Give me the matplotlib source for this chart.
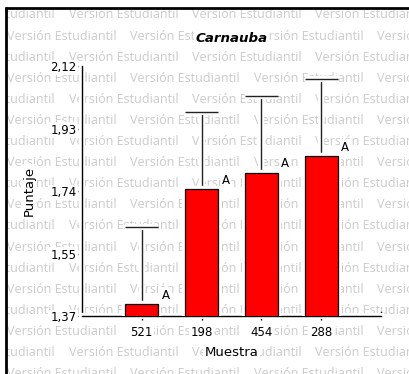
import matplotlib
matplotlib.use("Agg")
import matplotlib.pyplot as plt
import matplotlib.patheffects as pe
from matplotlib.lines import Line2D

# ---- data ----
samples = ['521', '198', '454', '288']
means = [1.405, 1.751, 1.800, 1.850]
err_up = [0.232, 0.232, 0.230, 0.232]
groups = ['A', 'A', 'A', 'A']
ytick_values = [1.37, 1.5575, 1.745, 1.9325, 2.12]
ytick_labels = ['1,37', '1,55', '1,74', '1,93', '2,12']
title = 'Carnauba'
xlabel = 'Muestra'
ylabel = 'Puntaje'
watermark = 'Versión Estudiantil'

W, H = 409, 374
fig = plt.figure(figsize=(W / 100, H / 100), dpi=100)
fig.patch.set_facecolor('white')

# ---- background watermark layer (pixel coordinates, clipped to inner frame) ----
x0, y0 = 6.5, 8.5
bg = fig.add_axes([x0 / W, 0, 1 - x0 / W, 1 - y0 / H], zorder=0)
bg.set_xlim(x0, W)
bg.set_ylim(H, y0)
bg.set_axis_off()
period = 123.3
row_h = 21.1
r = 0
y = 15.0
while y < H + 12:
    start = 7.0 if r % 2 == 1 else 7.0 + period / 2 - period
    x = start
    while x < W + 5:
        bg.text(x, y, watermark, fontsize=9, family='Open Sans', color='#cbcbcb',
                ha='left', va='center', clip_on=True)
        x += period
    y += row_h
    r += 1
fig.add_artist(Line2D([5 / W, 1.0], [1 - 7.5 / H, 1 - 7.5 / H], transform=fig.transFigure,
                      color='black', lw=2, solid_capstyle='butt'))
fig.add_artist(Line2D([5.5 / W, 5.5 / W], [0.0, 1 - 6.5 / H], transform=fig.transFigure,
                      color='black', lw=2, solid_capstyle='butt'))

# ---- main chart ----
halo = [pe.Stroke(linewidth=4.5, foreground='white'), pe.Normal()]
box = dict(facecolor='white', edgecolor='none', pad=1)

ax = fig.add_axes([82 / W, 58 / H, 299 / W, 250 / H], zorder=1)
ax.patch.set_alpha(0)
pos = list(range(1, len(samples) + 1))
bars = ax.bar(pos, means, width=0.55, color='#ff0000', edgecolor='black', linewidth=0.9, zorder=3)
for b in bars:
    b.set_path_effects(halo)
eb = ax.errorbar(pos, means, yerr=[[0] * len(err_up), err_up], fmt='none', ecolor='#222222',
                 elinewidth=1, capsize=12, capthick=1, zorder=2)
for ln in eb.lines[1]:
    ln.set_path_effects(halo)
for coll in eb.lines[2]:
    coll.set_path_effects(halo)

for p, m, g in zip(pos, means, groups):
    ax.annotate(g, xy=(p, m), xytext=(24, 9), textcoords='offset pixels', ha='center', va='center',
                fontsize=8.5, bbox=box, zorder=4)

ax.set_xlim(0, 5)
ax.set_ylim(ytick_values[0], ytick_values[-1])
ax.set_xticks(pos)
ax.set_xticklabels(samples)
ax.set_yticks(ytick_values)
ax.set_yticklabels(ytick_labels)
ax.tick_params(axis='both', direction='out', length=3, width=1, colors='black', labelsize=8.5)
ax.tick_params(axis='y', pad=1)
ax.tick_params(axis='x', pad=4)
for lab in ax.get_xticklabels() + ax.get_yticklabels():
    lab.set_bbox(box)
for s in ['top', 'right']:
    ax.spines[s].set_visible(False)
for s in ['left', 'bottom']:
    ax.spines[s].set_linewidth(1)
    ax.spines[s].set_path_effects(halo)
ax.add_line(Line2D([1, 1], [0, 0.016], transform=ax.transAxes, color='black', lw=1, clip_on=False))

ax.set_xlabel(xlabel, fontsize=9.5, bbox=box)
ax.set_ylabel(ylabel, fontsize=9.5, bbox=box)
ax.xaxis.set_label_coords(0.5, -0.118)
ax.yaxis.set_label_coords(-0.156, 0.5)

fig.text(231.5 / W, 1 - 38 / H, title, fontsize=9.6, fontweight='bold', fontstyle='italic',
         ha='center', va='center', bbox=box, zorder=5)

fig.savefig('out.png', dpi=100)
